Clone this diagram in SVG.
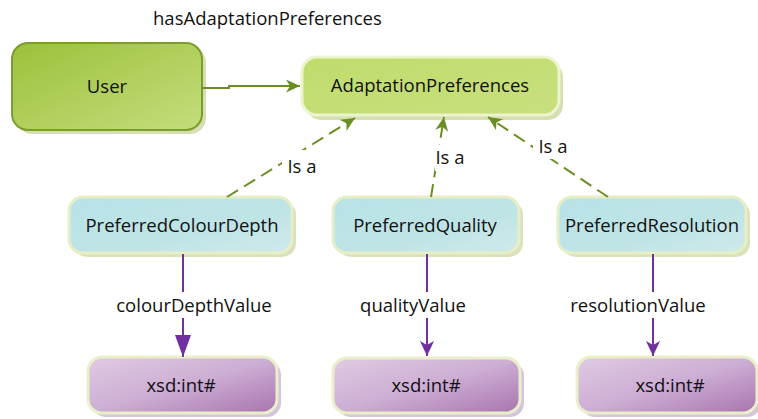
<svg xmlns="http://www.w3.org/2000/svg" width="758" height="419" viewBox="0 0 758 419">
  <defs>
    <linearGradient id="gUser" x1="0" y1="0" x2="1" y2="1">
      <stop offset="0" stop-color="#9cc13b"/>
      <stop offset="1" stop-color="#c4dd7c"/>
    </linearGradient>
    <linearGradient id="gPref" x1="0" y1="0" x2="1" y2="1">
      <stop offset="0" stop-color="#bfdc6c"/>
      <stop offset="1" stop-color="#c9e07e"/>
    </linearGradient>
    <linearGradient id="gCyan" x1="0" y1="0" x2="1" y2="1">
      <stop offset="0" stop-color="#b9e2e7"/>
      <stop offset="0.6" stop-color="#bfe4e6"/>
      <stop offset="1" stop-color="#d0eaea"/>
    </linearGradient>
    <linearGradient id="gPurple" x1="0" y1="0" x2="1" y2="1">
      <stop offset="0" stop-color="#dfcbe3"/>
      <stop offset="0.5" stop-color="#cdaed4"/>
      <stop offset="1" stop-color="#a874ae"/>
    </linearGradient>
    <marker id="arrGreen" markerUnits="userSpaceOnUse" markerWidth="16" markerHeight="14" refX="14" refY="6.5" orient="auto">
      <path d="M0,0 L14,6.5 L0,13 L4,6.5 z" fill="#6b8e23"/>
    </marker>
    <marker id="arrPurpleBig" markerUnits="userSpaceOnUse" markerWidth="24" markerHeight="18" refX="22" refY="8" orient="auto">
      <path d="M0,0 L22,8 L0,16 z" fill="#7030a0"/>
    </marker>
    <marker id="arrPurple" markerUnits="userSpaceOnUse" markerWidth="18" markerHeight="16" refX="15" refY="7" orient="auto">
      <path d="M0,0 L15,7 L0,14 L4,7 z" fill="#7030a0"/>
    </marker>
  </defs>
  <style>
    text { font-family: "Open Sans", "Liberation Sans", sans-serif; font-size: 18.5px; fill: #111; }
    .node-text { text-anchor: middle; }
    .shadow-green { fill: #d5dfb0; }
    .shadow-cyan { fill: #dae2bc; }
    .shadow-purple { fill: #d6c4de; }
    .user-box { fill: url(#gUser); stroke: #7b9c2e; stroke-width: 2; }
    .pref-box { fill: url(#gPref); stroke: #ebf4cc; stroke-width: 3; }
    .cyan-box { fill: url(#gCyan); stroke: #e6eec6; stroke-width: 3; }
    .purple-box { fill: url(#gPurple); stroke: #e9f0c9; stroke-width: 3; }
    .isa { fill: none; stroke: #6b8e23; stroke-width: 2; stroke-dasharray: 13 7; marker-end: url(#arrGreen); }
    .prop { fill: none; stroke: #7030a0; stroke-width: 2; }
    .label-bg { fill: #ffffff; }
  </style>

  <rect width="758" height="419" fill="#ffffff"/>

  <!-- nodes -->
  <g id="user">
    <rect class="shadow-green" x="16" y="47" width="190" height="87" rx="16"/>
    <rect class="user-box" x="12" y="43" width="190" height="87" rx="16"/>
    <text x="107" y="93" class="node-text">User</text>
  </g>

  <g id="adaptation-preferences">
    <rect class="shadow-green" x="306" y="62" width="257" height="58" rx="15"/>
    <rect class="pref-box" x="302" y="57" width="257" height="58" rx="15"/>
    <text x="430" y="92" class="node-text">AdaptationPreferences</text>
  </g>

  <g id="preferred-colour-depth">
    <rect class="shadow-cyan" x="73" y="201" width="223" height="56" rx="14"/>
    <rect class="cyan-box" x="69" y="197" width="223" height="56" rx="14"/>
    <text x="182" y="232" class="node-text">PreferredColourDepth</text>
  </g>

  <g id="preferred-quality">
    <rect class="shadow-cyan" x="337" y="201" width="186" height="56" rx="14"/>
    <rect class="cyan-box" x="333" y="197" width="186" height="56" rx="14"/>
    <text x="425" y="232" class="node-text">PreferredQuality</text>
  </g>

  <g id="preferred-resolution">
    <rect class="shadow-cyan" x="562" y="201" width="188" height="56" rx="14"/>
    <rect class="cyan-box" x="558" y="197" width="188" height="56" rx="14"/>
    <text x="652" y="232" class="node-text">PreferredResolution</text>
  </g>

  <g id="colour-depth-value">
    <rect class="shadow-purple" x="92" y="361" width="189" height="56" rx="14"/>
    <rect class="purple-box" x="88" y="357" width="189" height="56" rx="14"/>
    <text x="181" y="392" class="node-text">xsd:int#</text>
  </g>

  <g id="quality-value">
    <rect class="shadow-purple" x="337" y="362" width="187" height="55" rx="14"/>
    <rect class="purple-box" x="333" y="358" width="187" height="55" rx="14"/>
    <text x="426" y="392" class="node-text">xsd:int#</text>
  </g>

  <g id="resolution-value">
    <rect class="shadow-purple" x="581" y="361" width="180" height="56" rx="14"/>
    <rect class="purple-box" x="577" y="357" width="180" height="56" rx="14"/>
    <text x="670" y="392" class="node-text">xsd:int#</text>
  </g>

  <!-- connectors -->
  <g id="connectors">
    <path d="M202,88 H229 V86 H300" fill="none" stroke="#6b8e23" stroke-width="2" marker-end="url(#arrGreen)"/>
    <text x="153" y="25">hasAdaptationPreferences</text>

    <line class="isa" x1="227" y1="197" x2="355" y2="118"/>
    <line class="isa" x1="431" y1="197" x2="444" y2="117"/>
    <line class="isa" x1="608" y1="197" x2="488" y2="117"/>
    <rect class="label-bg" x="282" y="150" width="36" height="28"/>
    <rect class="label-bg" x="435" y="145" width="31" height="26"/>
    <rect class="label-bg" x="533" y="134" width="37" height="25"/>
    <text x="302" y="173" class="node-text">Is a</text>
    <text x="450" y="164" class="node-text">Is a</text>
    <text x="553" y="153" class="node-text">Is a</text>

    <line class="prop" x1="183" y1="254" x2="183" y2="357" marker-end="url(#arrPurpleBig)"/>
    <line class="prop" x1="427" y1="254" x2="427" y2="356" marker-end="url(#arrPurple)"/>
    <line class="prop" x1="653" y1="254" x2="653" y2="356" marker-end="url(#arrPurple)"/>
    <rect class="label-bg" x="113" y="292" width="162" height="26"/>
    <rect class="label-bg" x="358" y="292" width="111" height="26"/>
    <rect class="label-bg" x="568" y="292" width="141" height="26"/>
    <text x="194" y="312" class="node-text">colourDepthValue</text>
    <text x="413" y="312" class="node-text">qualityValue</text>
    <text x="638" y="312" class="node-text">resolutionValue</text>
  </g>
</svg>
